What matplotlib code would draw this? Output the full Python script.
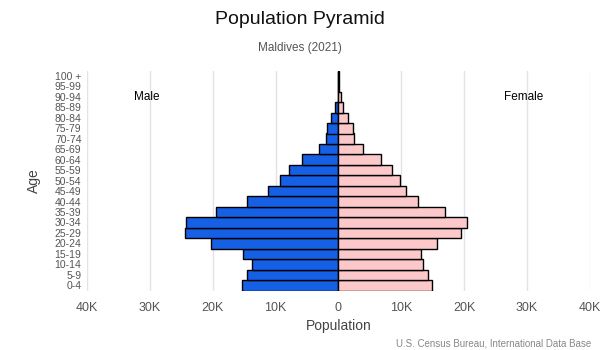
import matplotlib
matplotlib.use("Agg")
import matplotlib.pyplot as plt

plt.rcParams['font.family'] = ['Liberation Sans', 'DejaVu Sans']

# Age groups, bottom to top
ages = ["0-4", "5-9", "10-14", "15-19", "20-24", "25-29", "30-34", "35-39",
        "40-44", "45-49", "50-54", "55-59", "60-64", "65-69", "70-74",
        "75-79", "80-84", "85-89", "90-94", "95-99", "100 +"]

male = [15370, 14580, 13720, 15150, 20250, 24470, 24300, 19460,
        14580, 11230, 9310, 7820, 5800, 3030, 1980,
        1820, 1180, 540, 120, 30, 10]
female = [14830, 14190, 13400, 13080, 15630, 19460, 20410, 16950,
          12600, 10690, 9730, 8450, 6700, 3990, 2550,
          2390, 1600, 800, 370, 90, 20]

xticks = [-40000, -30000, -20000, -10000, 0, 10000, 20000, 30000, 40000]
xtick_labels = ["40K", "30K", "20K", "10K", "0", "10K", "20K", "30K", "40K"]

fig = plt.figure(figsize=(6, 3.5), dpi=100)
ax = fig.add_axes([0.145, 0.170, 0.838, 0.628])

y = range(len(ages))
ax.barh(y, [-m for m in male], height=1.0, color="#1660e6",
        edgecolor="black", linewidth=1.0, zorder=3)
ax.barh(y, female, height=1.0, color="#fcc8ca",
        edgecolor="black", linewidth=1.0, zorder=3)

ax.set_xlim(-40000, 40000)
ax.set_ylim(-0.5, len(ages) - 0.5)
ax.set_xticks(xticks)
ax.set_xticklabels(xtick_labels)
ax.set_yticks(list(y))
ax.set_yticklabels(ages)
ax.tick_params(axis="x", length=0, labelsize=9, colors="#555555", pad=8)
ax.tick_params(axis="y", length=0, labelsize=7.5, colors="#555555", pad=4)

ax.grid(axis="x", color="#e2e2ea", linewidth=1.0, zorder=0)
for s in ax.spines.values():
    s.set_visible(False)

ax.set_xlabel("Population", fontsize=10, color="#444444", labelpad=4)
ax.set_ylabel("Age", fontsize=10, color="#444444", labelpad=10)

ax.text(-30500, 18, "Male", fontsize=8.5, ha="center", va="center", color="black")
ax.text(29500, 18, "Female", fontsize=8.5, ha="center", va="center", color="black")

fig.text(0.5, 0.945, "Population Pyramid", fontsize=14, ha="center", va="center",
         color="#111111")
fig.text(0.5, 0.862, "Maldives (2021)", fontsize=8.5, ha="center", va="center",
         color="#555555")
fig.text(0.985, 0.02, "U.S. Census Bureau, International Data Base", fontsize=7,
         ha="right", va="center", color="#888888")

fig.savefig("out.png", dpi=100)
